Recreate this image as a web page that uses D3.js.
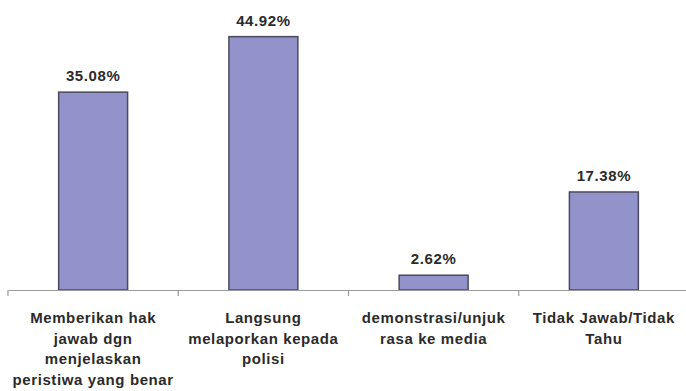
<!DOCTYPE html>
<html>
<head>
<meta charset="utf-8">
<script src="https://cdn.jsdelivr.net/npm/d3@7"></script>
<style>
  html, body { margin: 0; padding: 0; background: #fff; }
  svg { display: block; }
  text { font-family: "Liberation Sans", Arial, sans-serif; font-weight: bold; fill: #2b2b2b; }
</style>
</head>
<body>
<svg id="chart" width="686" height="391"></svg>
<script>
// Survey responses (percent of respondents)
const categories = [
  "Memberikan hak\njawab dgn\nmenjelaskan\nperistiwa yang benar",
  "Langsung\nmelaporkan kepada\npolisi",
  "demonstrasi/unjuk\nrasa ke media",
  "Tidak Jawab/Tidak\nTahu"
];
const values = [35.08, 44.92, 2.62, 17.38];
const valueLabels = ["35.08%", "44.92%", "2.62%", "17.38%"];

const svg = d3.select("#chart");
const baseY = 290;

const x = d3.scaleBand()
  .domain(categories)
  .range([8, 689])
  .padding(0);

const y = d3.scaleLinear()
  .domain([0, 50])
  .range([baseY, 8]);

const barW = x.bandwidth() * 0.405;

// bars
svg.append("g")
  .selectAll("rect")
  .data(values)
  .join("rect")
  .attr("x", (d, i) => x(categories[i]) + (x.bandwidth() - barW) / 2)
  .attr("y", d => y(d))
  .attr("width", barW)
  .attr("height", d => y(0) - y(d))
  .attr("fill", "#9393cb")
  .attr("stroke", "#4a4a5c")
  .attr("stroke-width", 1.5);

// value labels
svg.append("g")
  .selectAll("text")
  .data(values)
  .join("text")
  .attr("x", (d, i) => x(categories[i]) + x.bandwidth() / 2)
  .attr("y", d => y(d) - 11)
  .attr("text-anchor", "middle")
  .style("font-size", "15px")
  .style("letter-spacing", "0.6px")
  .text((d, i) => valueLabels[i]);

// category axis with boundary ticks
const axis = d3.axisBottom(x).tickSize(0).tickFormat("");
const axisG = svg.append("g")
  .attr("transform", `translate(0,${baseY})`)
  .call(axis);
axisG.select(".domain").attr("stroke", "#9a9a9a").attr("stroke-width", 1.2);

const bounds = categories.map(c => x(c)).concat([x.range()[1]]);
axisG.selectAll("line.bound")
  .data(bounds)
  .join("line")
  .attr("class", "bound")
  .attr("x1", d => d).attr("x2", d => d)
  .attr("y1", 0).attr("y2", 6)
  .attr("stroke", "#9a9a9a")
  .attr("stroke-width", 1.2);

// multi-line category labels
const lab = svg.append("g")
  .selectAll("text")
  .data(categories)
  .join("text")
  .attr("x", d => x(d) + x.bandwidth() / 2)
  .attr("y", 323)
  .attr("text-anchor", "middle")
  .style("font-size", "15px")
  .style("letter-spacing", "0.6px");

lab.selectAll("tspan")
  .data(d => d.split("\n").map(t => ({ t, cx: x(d) + x.bandwidth() / 2 })))
  .join("tspan")
  .attr("x", d => d.cx)
  .attr("dy", (d, i) => i === 0 ? 0 : 20.5)
  .text(d => d.t);
</script>
</body>
</html>
